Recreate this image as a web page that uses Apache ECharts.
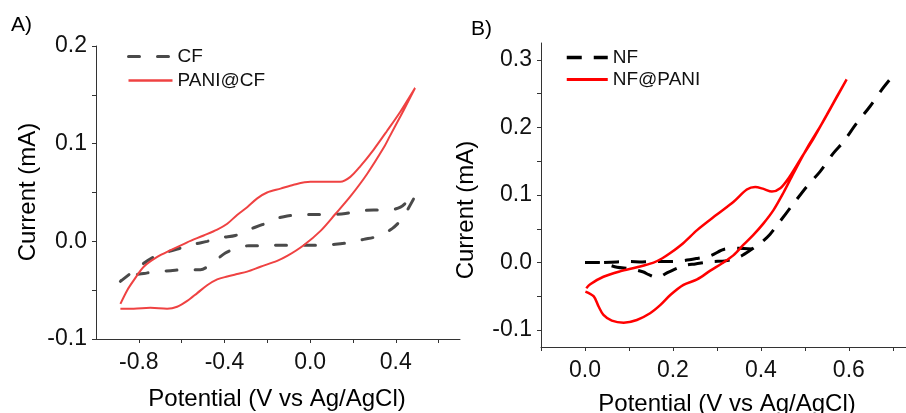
<!DOCTYPE html>
<html>
<head>
<meta charset="utf-8">
<script src="https://cdn.jsdelivr.net/npm/echarts@6/dist/echarts.min.js"></script>
<style>
html, body { margin: 0; padding: 0; background: #fff; }
#chart { width: 906px; height: 413px; }
</style>
</head>
<body>
<div id="chart"></div>
<script>
// data, [potential V, current mA]

const cfLoop = [
    [-0.886, -0.041], [-0.777, -0.0225], [-0.730, -0.016], [-0.668, -0.011], [-0.606, -0.007],
    [-0.543, -0.003], [-0.481, 0.000], [-0.411, 0.004], [-0.349, 0.006], [-0.287, 0.012],
    [-0.224, 0.017], [-0.170, 0.0225], [-0.107, 0.026], [-0.037, 0.027], [0.025, 0.0276],
    [0.103, 0.0276], [0.165, 0.0286], [0.227, 0.031], [0.297, 0.032], [0.367, 0.032],
    [0.422, 0.035], [0.460, 0.042], [0.492, 0.047],
    [0.430, 0.0235], [0.383, 0.013], [0.313, 0.005], [0.250, 0.002], [0.180, -0.0014],
    [0.118, -0.003], [0.048, -0.004], [-0.014, -0.004], [-0.092, -0.004], [-0.154, -0.004],
    [-0.224, -0.0045], [-0.287, -0.0045], [-0.341, -0.007], [-0.396, -0.012], [-0.458, -0.0225],
    [-0.512, -0.029], [-0.590, -0.029], [-0.651, -0.030], [-0.722, -0.031], [-0.777, -0.033],
    [-0.862, -0.036], [-0.886, -0.041]
];

const paniCfLoop = [
    [-0.886, -0.064], [-0.854, -0.050], [-0.824, -0.040], [-0.777, -0.026], [-0.714, -0.016],
    [-0.651, -0.009], [-0.574, -0.001], [-0.497, 0.006], [-0.434, 0.012], [-0.387, 0.018],
    [-0.341, 0.027], [-0.294, 0.035], [-0.247, 0.044], [-0.201, 0.050], [-0.138, 0.054],
    [-0.077, 0.058], [0.001, 0.061], [0.079, 0.061], [0.141, 0.061], [0.188, 0.066],
    [0.235, 0.077], [0.297, 0.094], [0.359, 0.113], [0.422, 0.133], [0.490, 0.157],
    [0.453, 0.141], [0.422, 0.128], [0.373, 0.108], [0.344, 0.096], [0.266, 0.069],
    [0.188, 0.046], [0.118, 0.028], [0.050, 0.011], [-0.030, -0.004], [-0.107, -0.015],
    [-0.154, -0.020], [-0.232, -0.026], [-0.294, -0.031], [-0.341, -0.0335], [-0.387, -0.036],
    [-0.434, -0.039], [-0.481, -0.045], [-0.527, -0.053], [-0.574, -0.061], [-0.621, -0.067],
    [-0.668, -0.069], [-0.746, -0.068], [-0.824, -0.069], [-0.886, -0.069]
];

// NF trace: forward sweep with the dip, then the upper return strand
const nfSweep = [
    [0.000, 0.000], [0.031, 0.000], [0.042, -0.001], [0.073, -0.007], [0.103, -0.009],
    [0.133, -0.014], [0.145, -0.018], [0.164, -0.022], [0.190, -0.014], [0.228, -0.004],
    [0.251, -0.002], [0.289, 0.0015], [0.319, 0.0025], [0.353, 0.009], [0.380, 0.020],
    [0.400, 0.029], [0.421, 0.042], [0.440, 0.058], [0.474, 0.087], [0.505, 0.113],
    [0.535, 0.135], [0.565, 0.162], [0.588, 0.179], [0.618, 0.2065], [0.648, 0.231],
    [0.675, 0.256], [0.692, 0.270]
];
const nfReturn = [
    [0.380, 0.020], [0.349, 0.021], [0.319, 0.020], [0.285, 0.010], [0.258, 0.0065],
    [0.220, 0.0025], [0.190, 0.0015], [0.156, 0.0015], [0.130, 0.001], [0.099, 0.0015],
    [0.073, 0.001], [0.042, 0.000]
];

const nfPaniLoop = [
    [0.003, -0.038], [0.012, -0.032], [0.042, -0.021], [0.080, -0.013], [0.118, -0.007],
    [0.156, 0.000], [0.175, 0.006], [0.194, 0.014], [0.224, 0.029], [0.255, 0.048],
    [0.300, 0.071], [0.338, 0.090], [0.368, 0.108], [0.387, 0.112], [0.406, 0.109],
    [0.425, 0.105], [0.444, 0.110], [0.463, 0.125], [0.489, 0.152], [0.520, 0.184],
    [0.550, 0.219], [0.573, 0.246], [0.595, 0.271],
    [0.565, 0.236], [0.535, 0.2015], [0.505, 0.1695], [0.474, 0.132], [0.451, 0.103],
    [0.429, 0.078], [0.406, 0.058], [0.383, 0.041], [0.360, 0.026], [0.338, 0.011],
    [0.312, -0.001], [0.285, -0.012], [0.255, -0.025], [0.224, -0.033], [0.194, -0.048],
    [0.171, -0.063], [0.148, -0.075], [0.118, -0.085], [0.088, -0.089], [0.061, -0.086],
    [0.042, -0.0775], [0.031, -0.065], [0.020, -0.050], [0.001, -0.043]
];

// ticks and labels
const aXTicks = [-0.8, -0.6, -0.4, -0.2, 0, 0.2, 0.4, 0.6];
const aXLabels = [-0.8, -0.4, 0, 0.4];
const aYTicks = [-0.1, -0.05, 0, 0.05, 0.1, 0.15, 0.2];
const aYLabels = [-0.1, 0, 0.1, 0.2];
const bXTicks = [-0.1, 0, 0.1, 0.2, 0.3, 0.4, 0.5, 0.6, 0.7];
const bXLabels = [0, 0.2, 0.4, 0.6];
const bYTicks = [-0.1, -0.05, 0, 0.05, 0.1, 0.15, 0.2, 0.25, 0.3];
const bYLabels = [-0.1, 0, 0.1, 0.2, 0.3];

const FONT = "'Liberation Sans', Arial, sans-serif";

function makeAxis(gridIndex, min, max, ticks, labels, margin)
{
    return {
        type: "value",
        gridIndex: gridIndex,
        min: min,
        max: max,
        axisLine: { show: true, onZero: false, lineStyle: { color: "#333", width: 1 } },
        axisTick: { show: true, length: 4, customValues: ticks, lineStyle: { color: "#333" } },
        axisLabel: {
            customValues: labels,
            formatter: function (v) { return v.toFixed(1); },
            fontSize: 23,
            fontFamily: FONT,
            color: "#111",
            margin: margin
        },
        splitLine: { show: false }
    };
}

function lineSeries(name, data, axis, color, width, type, cap)
{
    return {
        type: "line",
        name: name,
        data: data,
        xAxisIndex: axis,
        yAxisIndex: axis,
        symbol: "none",
        smooth: 0.3,
        lineStyle: { color: color, width: width, type: type, cap: cap || "butt" },
        itemStyle: { color: color },
        emphasis: { disabled: true }
    };
}

function makeLegend(items, left, top, width, gap)
{
    return {
        data: items,
        orient: "vertical",
        left: left,
        top: top,
        padding: 0,
        itemWidth: width,
        itemHeight: 14,
        itemGap: gap,
        itemStyle: { opacity: 0, borderWidth: 0 },
        textStyle: { fontSize: 19, fontFamily: FONT, color: "#111" }
    };
}

function textItem(text, x, y, size, rotation, align)
{
    return {
        type: "text",
        x: x,
        y: y,
        rotation: rotation || 0,
        style: {
            text: text,
            fontSize: size,
            fontFamily: FONT,
            fill: "#000",
            align: align || "center",
            verticalAlign: "middle"
        }
    };
}

const chart = echarts.init(document.getElementById("chart"), null, { renderer: "canvas" });

chart.setOption({
    animation: false,
    backgroundColor: "#fff",
    grid: [
        { left: 96, top: 46, width: 364, height: 293, outerBoundsMode: "none" },
        { left: 541, top: 43, width: 365, height: 304, outerBoundsMode: "none" }
    ],
    xAxis: [
        makeAxis(0, -1.0, 0.7, aXTicks, aXLabels, 12),
        makeAxis(1, -0.1, 0.73, bXTicks, bXLabels, 12)
    ],
    yAxis: [
        makeAxis(0, -0.1, 0.2, aYTicks, aYLabels, 9),
        makeAxis(1, -0.125, 0.325, bYTicks, bYLabels, 9)
    ],
    legend: [
        makeLegend([
            { name: "CF", lineStyle: { width: 3 } },
            { name: "PANI@CF", lineStyle: { width: 2.5 } }
        ], 127, 47, 44, 5),
        makeLegend([
            { name: "NF", lineStyle: { width: 3.5 } },
            { name: "NF@PANI", lineStyle: { width: 3 } }
        ], 565, 48, 41, 3)
    ],
    graphic: [
        textItem("A)", 11, 25, 21, 0, "left"),
        textItem("B)", 471, 29, 21, 0, "left"),
        textItem("Current (mA)", 28, 192, 24, Math.PI / 2),
        textItem("Current (mA)", 466, 210, 24, Math.PI / 2),
        textItem("Potential (V vs Ag/AgCl)", 277, 399, 24),
        textItem("Potential (V vs Ag/AgCl)", 727, 404, 24)
    ],
    series: [
        lineSeries("CF", cfLoop, 0, "#4a4a4a", 3, [11, 18], "round"),
        lineSeries("PANI@CF", paniCfLoop, 0, "#ef4242", 2),
        lineSeries("NF", nfSweep, 1, "#000", 3, [15, 12]),
        lineSeries("NF", nfReturn, 1, "#000", 3, [15, 12]),
        lineSeries("NF@PANI", nfPaniLoop, 1, "#ff0000", 2.5)
    ]
});
</script>
</body>
</html>
